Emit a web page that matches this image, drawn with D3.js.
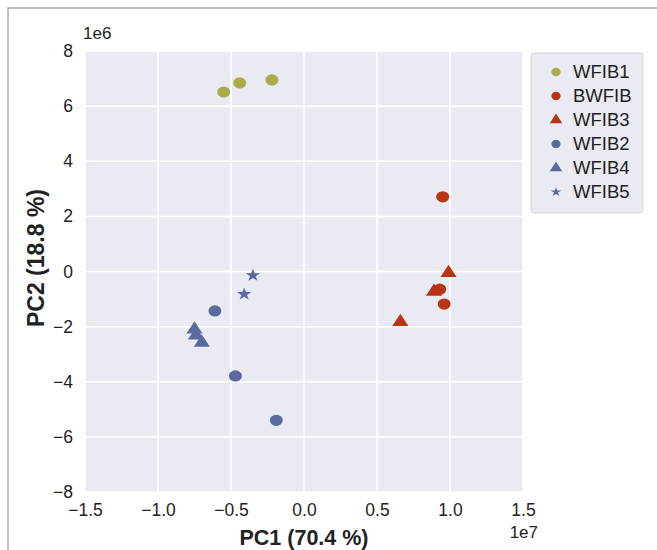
<!DOCTYPE html>
<html>
<head>
<meta charset="utf-8">
<script src="https://cdn.jsdelivr.net/npm/d3@7"></script>
<style>
  body { margin: 0; background: #fff; }
  text { font-family: "Liberation Sans", Arial, sans-serif; fill: #222; }
</style>
</head>
<body>
<div id="chart"></div>
<script>
// groups shown in the legend, in legend order
const groups = ['WFIB1', 'BWFIB', 'WFIB3', 'WFIB2', 'WFIB4', 'WFIB5'];
const groupColors = ['#a9ad47', '#b83513', '#b83513', '#5a6a9c', '#5a6a9c', '#5a6a9c'];
const groupShapes = ['circle', 'circle', 'triangle', 'circle', 'triangle', 'star'];

// PC scores per sample (x = PC1, y = PC2)
const sampleGroup = [
  'WFIB1', 'WFIB1', 'WFIB1',
  'BWFIB', 'BWFIB', 'BWFIB',
  'WFIB3', 'WFIB3', 'WFIB3',
  'WFIB2', 'WFIB2', 'WFIB2',
  'WFIB4', 'WFIB4', 'WFIB4',
  'WFIB5', 'WFIB5'
];
const pc1 = [
  -5.5e6, -4.4e6, -2.2e6,
  9.5e6, 9.3e6, 9.6e6,
  9.9e6, 8.9e6, 6.6e6,
  -6.1e6, -4.7e6, -1.9e6,
  -7.5e6, -7.4e6, -7.0e6,
  -3.5e6, -4.1e6
];
const pc2 = [
  6.51e6, 6.84e6, 6.95e6,
  2.71e6, -0.64e6, -1.18e6,
  -0.05e6, -0.73e6, -1.83e6,
  -1.43e6, -3.79e6, -5.40e6,
  -2.10e6, -2.32e6, -2.58e6,
  -0.14e6, -0.82e6
];

const xTicks = [-1.5e7, -1.0e7, -0.5e7, 0, 0.5e7, 1.0e7, 1.5e7];
const yTicks = [-8e6, -6e6, -4e6, -2e6, 0, 2e6, 4e6, 6e6, 8e6];

const width = 657, height = 550;
const margin = { top: 51, right: 134, bottom: 58, left: 85 };

const svg = d3.select('#chart').append('svg')
  .attr('width', width)
  .attr('height', height);

// outer frame (only left and top edges visible)
svg.append('path')
  .attr('d', `M8,${height} V8 H${width}`)
  .attr('fill', 'none')
  .attr('stroke', '#a8a8a8')
  .attr('stroke-width', 1.5);

const x = d3.scaleLinear().domain([-1.5e7, 1.5e7]).range([margin.left, width - margin.right]);
const y = d3.scaleLinear().domain([-8e6, 8e6]).range([height - margin.bottom, margin.top]);

const plot = svg.append('g');

plot.append('rect')
  .attr('x', x.range()[0])
  .attr('y', y.range()[1])
  .attr('width', x.range()[1] - x.range()[0])
  .attr('height', y.range()[0] - y.range()[1])
  .attr('fill', '#eaeaf2');

// grid lines
plot.append('g')
  .selectAll('line')
  .data(xTicks)
  .join('line')
  .attr('x1', d => x(d)).attr('x2', d => x(d))
  .attr('y1', y.range()[0]).attr('y2', y.range()[1])
  .attr('stroke', '#fff')
  .attr('stroke-width', 1.5);

plot.append('g')
  .selectAll('line')
  .data(yTicks)
  .join('line')
  .attr('y1', d => y(d)).attr('y2', d => y(d))
  .attr('x1', x.range()[0]).attr('x2', x.range()[1])
  .attr('stroke', '#fff')
  .attr('stroke-width', 1.5);

// axes (labels only, like seaborn darkgrid)
const fmt = d => (d < 0 ? '\u2212' : '') + Math.abs(d).toString();

const xAxis = svg.append('g')
  .attr('transform', `translate(0,${y.range()[0]})`)
  .call(d3.axisBottom(x).tickValues(xTicks).tickSize(0).tickPadding(12)
    .tickFormat(d => fmt(+(d / 1e7).toFixed(1)).replace(/^(\u2212?\d)$/, '$1.0')));
xAxis.select('.domain').remove();
xAxis.selectAll('text')
  .attr('font-size', 17.5)
  .attr('font-family', '"Liberation Sans", Arial, sans-serif')
  .attr('fill', '#222');

const yAxis = svg.append('g')
  .attr('transform', `translate(${x.range()[0]},0)`)
  .call(d3.axisLeft(y).tickValues(yTicks).tickSize(0).tickPadding(12)
    .tickFormat(d => fmt(d / 1e6)));
yAxis.select('.domain').remove();
yAxis.selectAll('text')
  .attr('font-size', 17.5)
  .attr('font-family', '"Liberation Sans", Arial, sans-serif')
  .attr('fill', '#222');

// offset labels
svg.append('text')
  .attr('x', 83).attr('y', 39)
  .attr('font-size', 17)
  .text('1e6');
svg.append('text')
  .attr('x', 538).attr('y', 538)
  .attr('text-anchor', 'end')
  .attr('font-size', 17)
  .text('1e7');

// axis titles
svg.append('text')
  .attr('x', (x.range()[0] + x.range()[1]) / 2)
  .attr('y', 545)
  .attr('text-anchor', 'middle')
  .attr('font-size', 21.5)
  .attr('font-weight', 'bold')
  .text('PC1 (70.4 %)');

svg.append('text')
  .attr('transform', 'translate(44,258) rotate(-90)')
  .attr('text-anchor', 'middle')
  .attr('font-size', 23)
  .attr('font-weight', 'bold')
  .text('PC2 (18.8 %)');

// markers
const shapeOf = {
  circle: d3.symbolCircle,
  triangle: d3.symbolTriangle,
  star: d3.symbolStar
};
const sizeOf = { circle: 100, triangle: 85, star: 50 };
const colorScale = d3.scaleOrdinal(groups, groupColors);
const shapeScale = d3.scaleOrdinal(groups, groupShapes);

const samples = sampleGroup.map((g, i) => ({ group: g, x: pc1[i], y: pc2[i] }));

plot.append('g')
  .selectAll('path')
  .data(samples)
  .join('path')
  .attr('transform', d => `translate(${x(d.x)},${y(d.y)}) scale(1.15,1)`)
  .attr('d', d => d3.symbol(shapeOf[shapeScale(d.group)], sizeOf[shapeScale(d.group)])())
  .attr('fill', d => colorScale(d.group));

// legend
const legend = svg.append('g');
legend.append('rect')
  .attr('x', 531).attr('y', 53)
  .attr('width', 112).attr('height', 160)
  .attr('rx', 3)
  .attr('fill', '#eaeaf2')
  .attr('stroke', '#d4d4dc')
  .attr('stroke-width', 1);

const item = legend.selectAll('g.item')
  .data(groups)
  .join('g')
  .attr('class', 'item')
  .attr('transform', (d, i) => `translate(556,${72 + i * 24})`);

item.append('path')
  .attr('d', d => d3.symbol(shapeOf[shapeScale(d)], shapeScale(d) === 'star' ? 28 : 55)())
  .attr('transform', 'scale(1.1,1)')
  .attr('fill', d => colorScale(d));

item.append('text')
  .attr('x', 17)
  .attr('dy', '0.35em')
  .attr('font-size', 18.5)
  .text(d => d);
</script>
</body>
</html>
